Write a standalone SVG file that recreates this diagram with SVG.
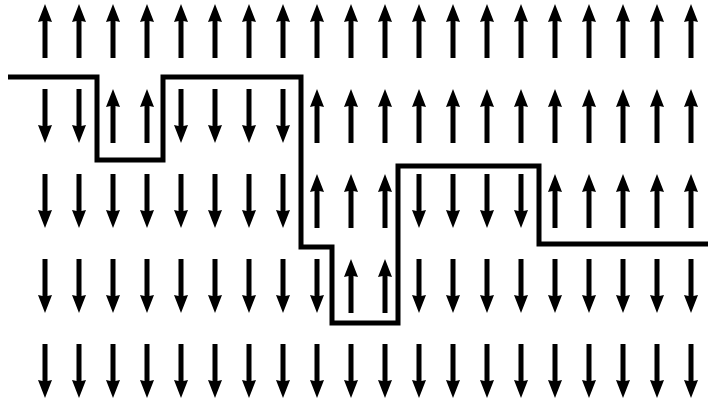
<svg xmlns="http://www.w3.org/2000/svg" xmlns:xlink="http://www.w3.org/1999/xlink" width="708" height="408" viewBox="0 0 708 408">
<defs>
<g id="up"><path d="M0,0 L7,18 L0,16.5 L-7,18 Z" fill="#000"/><rect x="-2.5" y="12" width="5" height="42" fill="#000"/></g>
<g id="dn"><path d="M0,54 L7,36 L0,37.5 L-7,36 Z" fill="#000"/><rect x="-2.5" y="0" width="5" height="42" fill="#000"/></g>
</defs>
<rect width="708" height="408" fill="#fff"/>
<g id="row1">
<use href="#up" x="45" y="4"/><use href="#up" x="79" y="4"/><use href="#up" x="113" y="4"/><use href="#up" x="147" y="4"/><use href="#up" x="181" y="4"/><use href="#up" x="215" y="4"/><use href="#up" x="249" y="4"/><use href="#up" x="283" y="4"/><use href="#up" x="317" y="4"/><use href="#up" x="351" y="4"/><use href="#up" x="385" y="4"/><use href="#up" x="419" y="4"/><use href="#up" x="453" y="4"/><use href="#up" x="487" y="4"/><use href="#up" x="521" y="4"/><use href="#up" x="555" y="4"/><use href="#up" x="589" y="4"/><use href="#up" x="623" y="4"/><use href="#up" x="657" y="4"/><use href="#up" x="691" y="4"/>
</g>
<g id="row2">
<use href="#dn" x="45" y="89"/><use href="#dn" x="79" y="89"/><use href="#up" x="113" y="89"/><use href="#up" x="147" y="89"/><use href="#dn" x="181" y="89"/><use href="#dn" x="215" y="89"/><use href="#dn" x="249" y="89"/><use href="#dn" x="283" y="89"/><use href="#up" x="317" y="89"/><use href="#up" x="351" y="89"/><use href="#up" x="385" y="89"/><use href="#up" x="419" y="89"/><use href="#up" x="453" y="89"/><use href="#up" x="487" y="89"/><use href="#up" x="521" y="89"/><use href="#up" x="555" y="89"/><use href="#up" x="589" y="89"/><use href="#up" x="623" y="89"/><use href="#up" x="657" y="89"/><use href="#up" x="691" y="89"/>
</g>
<g id="row3">
<use href="#dn" x="45" y="174"/><use href="#dn" x="79" y="174"/><use href="#dn" x="113" y="174"/><use href="#dn" x="147" y="174"/><use href="#dn" x="181" y="174"/><use href="#dn" x="215" y="174"/><use href="#dn" x="249" y="174"/><use href="#dn" x="283" y="174"/><use href="#up" x="317" y="174"/><use href="#up" x="351" y="174"/><use href="#up" x="385" y="174"/><use href="#dn" x="419" y="174"/><use href="#dn" x="453" y="174"/><use href="#dn" x="487" y="174"/><use href="#dn" x="521" y="174"/><use href="#up" x="555" y="174"/><use href="#up" x="589" y="174"/><use href="#up" x="623" y="174"/><use href="#up" x="657" y="174"/><use href="#up" x="691" y="174"/>
</g>
<g id="row4">
<use href="#dn" x="45" y="259"/><use href="#dn" x="79" y="259"/><use href="#dn" x="113" y="259"/><use href="#dn" x="147" y="259"/><use href="#dn" x="181" y="259"/><use href="#dn" x="215" y="259"/><use href="#dn" x="249" y="259"/><use href="#dn" x="283" y="259"/><use href="#dn" x="317" y="259"/><use href="#up" x="351" y="259"/><use href="#up" x="385" y="259"/><use href="#dn" x="419" y="259"/><use href="#dn" x="453" y="259"/><use href="#dn" x="487" y="259"/><use href="#dn" x="521" y="259"/><use href="#dn" x="555" y="259"/><use href="#dn" x="589" y="259"/><use href="#dn" x="623" y="259"/><use href="#dn" x="657" y="259"/><use href="#dn" x="691" y="259"/>
</g>
<g id="row5">
<use href="#dn" x="45" y="344"/><use href="#dn" x="79" y="344"/><use href="#dn" x="113" y="344"/><use href="#dn" x="147" y="344"/><use href="#dn" x="181" y="344"/><use href="#dn" x="215" y="344"/><use href="#dn" x="249" y="344"/><use href="#dn" x="283" y="344"/><use href="#dn" x="317" y="344"/><use href="#dn" x="351" y="344"/><use href="#dn" x="385" y="344"/><use href="#dn" x="419" y="344"/><use href="#dn" x="453" y="344"/><use href="#dn" x="487" y="344"/><use href="#dn" x="521" y="344"/><use href="#dn" x="555" y="344"/><use href="#dn" x="589" y="344"/><use href="#dn" x="623" y="344"/><use href="#dn" x="657" y="344"/><use href="#dn" x="691" y="344"/>
</g>
<g id="boundary">
<path d="M8,77 H97 V160 H163 V77 H301 V247 H332 V323 H398 V166 H539 V244 H708" fill="none" stroke="#000" stroke-width="5"/>
</g>
</svg>
